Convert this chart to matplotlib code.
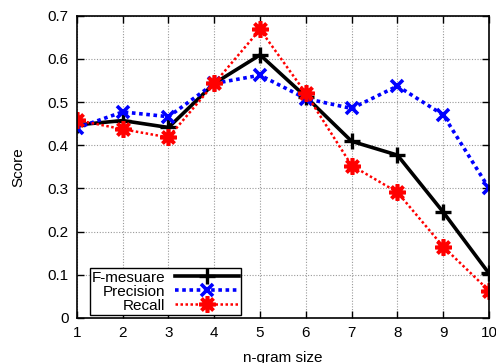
import matplotlib
matplotlib.use("Agg")
import matplotlib.pyplot as plt

plt.rcParams["font.family"] = ["Liberation Sans", "DejaVu Sans"]

ngram = [1, 2, 3, 4, 5, 6, 7, 8, 9, 10]
f_mesuare = [0.447, 0.457, 0.441, 0.543, 0.609, 0.512, 0.409, 0.377, 0.245, 0.103]
precision = [0.440, 0.477, 0.466, 0.543, 0.562, 0.508, 0.485, 0.537, 0.470, 0.300]
recall = [0.458, 0.437, 0.418, 0.543, 0.668, 0.520, 0.353, 0.291, 0.165, 0.063]

fig = plt.figure(figsize=(4.96, 3.63), dpi=100)
ax = fig.add_axes([0.155, 0.124, 0.831, 0.833])

ax.plot(ngram, f_mesuare, color="black", lw=2.6, marker="+", ms=11, mew=2.4,
        label="F-mesuare")
ax.plot(ngram, precision, color="blue", lw=2.6, ls=(0, (1, 1)), marker="x", ms=9,
        mew=2.6, label="Precision")
ax.plot(ngram, recall, color="red", lw=1.8, ls=(0, (1, 1)), marker=(8, 2, 0), ms=12,
        mew=2.6, label="Recall")

ax.set_xlim(1, 10)
ax.set_ylim(0, 0.7)
ax.set_xticks(ngram)
ax.set_yticks([0, 0.1, 0.2, 0.3, 0.4, 0.5, 0.6, 0.7])
ax.set_yticklabels(["0", "0.1", "0.2", "0.3", "0.4", "0.5", "0.6", "0.7"])
ax.tick_params(direction="in", top=True, right=True, length=5, width=1,
               labelsize=11, pad=6)
ax.grid(True, color="#999999", ls=(0, (1, 1.5)), lw=0.8)
for s in ax.spines.values():
    s.set_linewidth(1.2)

ax.set_xlabel("n-gram size", fontsize=11, labelpad=8)
ax.set_ylabel("Score", fontsize=11, labelpad=16)

leg = ax.legend(loc="lower left", bbox_to_anchor=(0.02, -0.005), markerfirst=False,
                fontsize=11, handlelength=4.2, handletextpad=0.6, labelspacing=0.0,
                borderpad=0.15, borderaxespad=0.3, fancybox=False, framealpha=1,
                edgecolor="black")
leg.get_frame().set_linewidth(1.0)

fig.savefig("out.png", dpi=100)
